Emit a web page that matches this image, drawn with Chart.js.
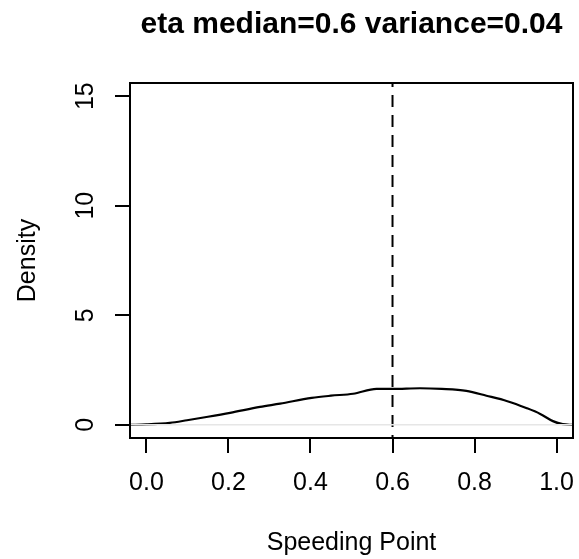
<!DOCTYPE html>
<html>
<head>
<meta charset="utf-8">
<script src="https://cdn.jsdelivr.net/npm/chart.js@4.4.1/dist/chart.umd.min.js"></script>
<style>
  html, body { margin: 0; padding: 0; background: #fff; }
  #wrap { width: 579px; height: 559px; }
</style>
</head>
<body>
<div id="wrap"><canvas id="densityChart" width="579" height="559"></canvas></div>
<script>
// density curve
const speedX = [-0.04, 0.0, 0.057, 0.099, 0.15, 0.204, 0.277, 0.326, 0.403, 0.45, 0.504, 0.561, 0.6, 0.667, 0.72, 0.78, 0.829, 0.88, 0.926, 0.96, 0.991, 1.015, 1.04];
const densityY = [0.0, 0.02, 0.09, 0.21, 0.37, 0.55, 0.82, 0.97, 1.23, 1.33, 1.42, 1.64, 1.64, 1.67, 1.64, 1.55, 1.33, 1.08, 0.77, 0.5, 0.17, 0.03, 0.0];

const medianX = 0.6;
const xTicks = [0, 0.2, 0.4, 0.6, 0.8, 1.0];
const yTicks = [0, 5, 10, 15];
const xRange = [-0.04, 1.04];
const yRange = [-0.6, 15.6];

const titleText = 'eta median=0.6 variance=0.04';
const fontFamily = '"Liberation Sans", Arial, Helvetica, sans-serif';

// box round the plot area, like R's bty="o"
const boxPlugin = {
    id: 'plotBox',
    afterDraw(chart) {
        const a = chart.chartArea;
        const ctx = chart.ctx;
        ctx.save();
        ctx.strokeStyle = '#000';
        ctx.lineWidth = 2;
        ctx.strokeRect(a.left, a.top, a.right - a.left, a.bottom - a.top);
        ctx.restore();
    }
};

const curvePoints = speedX.map((x, i) => ({ x: x, y: densityY[i] }));

const chart = new Chart(document.getElementById('densityChart'), {
    type: 'scatter',
    data: {
        datasets: [
            {
                // faint zero line
                data: [{ x: xRange[0], y: 0 }, { x: xRange[1], y: 0 }],
                showLine: true,
                borderColor: '#e6e6e6',
                borderWidth: 1.5,
                pointRadius: 0
            },
            {
                data: curvePoints,
                showLine: true,
                borderColor: '#000',
                borderWidth: 2.2,
                tension: 0.4,
                cubicInterpolationMode: 'monotone',
                pointRadius: 0
            },
            {
                // median marker
                data: [{ x: medianX, y: yRange[1] }, { x: medianX, y: yRange[0] }],
                showLine: true,
                borderColor: '#000',
                borderWidth: 2,
                borderDash: [12, 8],
                borderDashOffset: 8,
                pointRadius: 0
            }
        ]
    },
    options: {
        responsive: false,
        animation: false,
        layout: { padding: { left: 0, right: 6, top: 0, bottom: 0 } },
        plugins: {
            legend: { display: false },
            tooltip: { enabled: false },
            title: {
                display: true,
                text: titleText,
                fullSize: false,
                color: '#000',
                font: { family: fontFamily, size: 30, weight: 'bold' },
                padding: { top: 7, bottom: 40 }
            }
        },
        scales: {
            x: {
                type: 'linear',
                min: xRange[0],
                max: xRange[1],
                afterBuildTicks: (scale) => { scale.ticks = xTicks.map(v => ({ value: v })); },
                afterFit: (scale) => {
                    scale.height = 121;
                    scale.paddingLeft = 0;
                    scale.paddingRight = 0;
                },
                grid: { drawOnChartArea: false, drawTicks: true, tickLength: 15, color: '#000', lineWidth: 2 },
                border: { display: false },
                ticks: {
                    color: '#000',
                    padding: 15,
                    maxRotation: 0,
                    font: { family: fontFamily, size: 25 },
                    callback: (v) => Number(v).toFixed(1)
                },
                title: {
                    display: true,
                    text: 'Speeding Point',
                    color: '#000',
                    font: { family: fontFamily, size: 25 },
                    padding: { top: 0, bottom: 1 }
                }
            },
            y: {
                type: 'linear',
                min: yRange[0],
                max: yRange[1],
                afterBuildTicks: (scale) => { scale.ticks = yTicks.map(v => ({ value: v })); },
                afterFit: (scale) => {
                    scale.width = 130;
                    scale.paddingTop = 0;
                    scale.paddingBottom = 0;
                },
                grid: { drawOnChartArea: false, drawTicks: true, tickLength: 15, color: '#000', lineWidth: 2 },
                border: { display: false },
                ticks: {
                    color: '#000',
                    padding: 15,
                    minRotation: 90,
                    maxRotation: 90,
                    crossAlign: 'center',
                    font: { family: fontFamily, size: 25 },
                    callback: (v) => String(v)
                },
                title: {
                    display: true,
                    text: 'Density',
                    color: '#000',
                    font: { family: fontFamily, size: 25 },
                    padding: { top: 13, bottom: 0 }
                }
            }
        }
    },
    plugins: [boxPlugin]
});
</script>
</body>
</html>
